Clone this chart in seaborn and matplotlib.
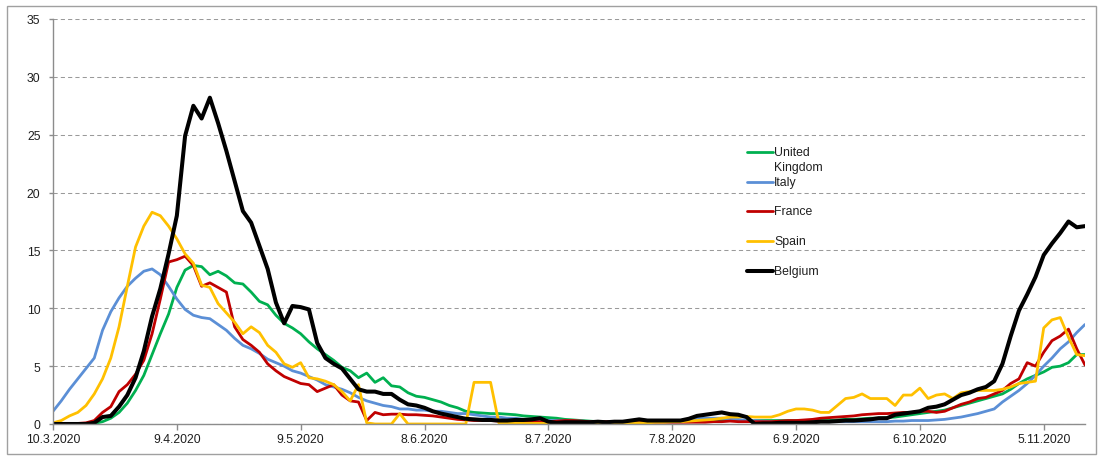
import pandas as pd
import seaborn as sns
import matplotlib.pyplot as plt
from matplotlib.lines import Line2D
from matplotlib.patches import Rectangle

OUT_PATH = 'out.png'
W, H = 1103, 460

# values every 2 days from 10.3.2020 to 15.11.2020
START = '2020-03-10'

uk = [0, 0, 0, 0, 0, 0.05, 0.2, 0.5, 1.0, 1.8,
      2.9, 4.2, 6.0, 7.8, 9.5, 11.8, 13.3, 13.7, 13.6, 12.9,
      13.2, 12.8, 12.2, 12.1, 11.4, 10.6, 10.3, 9.4, 8.7, 8.3,
      7.8, 7.1, 6.5, 6.0, 5.5, 4.9, 4.6, 4.0, 4.4, 3.6,
      4.0, 3.3, 3.2, 2.7, 2.4, 2.3, 2.1, 1.9, 1.6, 1.4,
      1.1, 1.0, 0.95, 0.9, 0.9, 0.85, 0.8, 0.7, 0.65, 0.6,
      0.55, 0.5, 0.4, 0.35, 0.3, 0.25, 0.2, 0.2, 0.2, 0.2,
      0.2, 0.2, 0.2, 0.2, 0.2, 0.2, 0.2, 0.2, 0.25, 0.3,
      0.3, 0.3, 0.3, 0.3, 0.3, 0.3, 0.3, 0.3, 0.3, 0.3,
      0.3, 0.3, 0.3, 0.3, 0.3, 0.35, 0.4, 0.4, 0.45, 0.5,
      0.5, 0.55, 0.6, 0.7, 0.8, 0.9, 1.0, 1.1, 1.2, 1.4,
      1.6, 1.8, 2.0, 2.2, 2.4, 2.6, 3.0, 3.5, 3.9, 4.2,
      4.5, 4.9, 5.0, 5.3, 6.0, 6.0]

italy = [1.1, 2.0, 3.0, 3.9, 4.8, 5.7, 8.1, 9.7, 10.9, 11.9,
         12.6, 13.2, 13.4, 12.9, 11.9, 10.8, 9.9, 9.4, 9.2, 9.1,
         8.6, 8.1, 7.4, 6.8, 6.5, 6.1, 5.6, 5.3, 5.0, 4.6,
         4.4, 4.1, 3.8, 3.4, 3.2, 3.0, 2.7, 2.3, 2.0, 1.8,
         1.6, 1.5, 1.3, 1.3, 1.2, 1.2, 1.1, 1.1, 1.0, 0.9,
         0.9, 0.8, 0.7, 0.6, 0.6, 0.5, 0.5, 0.4, 0.4, 0.4,
         0.3, 0.3, 0.3, 0.25, 0.25, 0.2, 0.2, 0.2, 0.2, 0.2,
         0.2, 0.2, 0.2, 0.2, 0.2, 0.2, 0.3, 0.4, 0.45, 0.5,
         0.5, 0.5, 0.45, 0.4, 0.3, 0.3, 0.25, 0.2, 0.2, 0.2,
         0.2, 0.2, 0.2, 0.2, 0.2, 0.2, 0.2, 0.2, 0.2, 0.2,
         0.2, 0.2, 0.25, 0.25, 0.3, 0.3, 0.3, 0.35, 0.4, 0.5,
         0.6, 0.75, 0.9, 1.1, 1.3, 1.9, 2.4, 2.9, 3.5, 4.2,
         5.0, 5.7, 6.5, 7.1, 7.9, 8.6]

france = [0, 0, 0.05, 0.05, 0.1, 0.3, 1.0, 1.5, 2.8, 3.4,
          4.3, 5.5, 7.8, 10.8, 14.0, 14.2, 14.5, 13.7, 11.9, 12.2,
          11.8, 11.4, 8.4, 7.3, 6.8, 6.2, 5.2, 4.6, 4.1, 3.8,
          3.5, 3.4, 2.8, 3.1, 3.4, 2.5, 2.0, 1.9, 0.3, 1.0,
          0.8, 0.85, 0.85, 0.8, 0.8, 0.75, 0.7, 0.6, 0.5, 0.4,
          0.35, 0.3, 0.3, 0.3, 0.25, 0.25, 0.25, 0.2, 0.2, 0.2,
          0.2, 0.25, 0.3, 0.3, 0.25, 0.2, 0.2, 0.2, 0.2, 0.2,
          0.15, 0.15, 0.15, 0.15, 0.15, 0.15, 0.15, 0.15, 0.15, 0.15,
          0.2, 0.2, 0.25, 0.2, 0.2, 0.2, 0.2, 0.2, 0.25, 0.3,
          0.3, 0.35, 0.4, 0.5, 0.55, 0.6, 0.65, 0.7, 0.8, 0.85,
          0.9, 0.9, 0.95, 1.0, 1.0, 1.1, 1.1, 1.0, 1.1, 1.4,
          1.7, 1.9, 2.2, 2.3, 2.6, 2.9, 3.5, 3.9, 5.3, 5.0,
          6.2, 7.2, 7.6, 8.2, 6.5, 5.1]

spain = [0.1, 0.3, 0.7, 1.0, 1.6, 2.6, 3.9, 5.7, 8.4, 11.9,
         15.3, 17.1, 18.3, 18.0, 17.1, 16.0, 14.7, 13.9, 12.0, 11.8,
         10.4, 9.6, 8.8, 7.8, 8.4, 7.9, 6.8, 6.2, 5.2, 4.9,
         5.3, 4.0, 3.9, 3.7, 3.4, 2.8, 2.0, 3.4, 0.1, 0.0,
         0.0, 0.0, 0.9, 0.0, 0.0, 0.0, 0.0, 0.0, 0.0, 0.0,
         0.0, 3.6, 3.6, 3.6, 0.1, 0.1, 0.05, 0.05, 0.05, 0.05,
         0.05, 0.05, 0.05, 0.05, 0.05, 0.1, 0.1, 0.1, 0.1, 0.1,
         0.1, 0.1, 0.1, 0.15, 0.15, 0.2, 0.2, 0.25, 0.3, 0.35,
         0.4, 0.5, 0.6, 0.6, 0.65, 0.6, 0.6, 0.6, 0.8, 1.1,
         1.3, 1.3, 1.2, 1.0, 1.0, 1.6, 2.2, 2.3, 2.6, 2.2,
         2.2, 2.2, 1.6, 2.5, 2.5, 3.1, 2.2, 2.5, 2.6, 2.2,
         2.7, 2.8, 2.9, 2.9, 2.9, 3.0, 3.2, 3.5, 3.6, 3.7,
         8.3, 9.0, 9.2, 7.5, 6.0, 5.9]

belgium = [0, 0, 0, 0, 0, 0.1, 0.6, 0.7, 1.5, 2.5,
           4.0, 6.3, 9.3, 11.7, 14.7, 18.0, 24.9, 27.5, 26.4, 28.2,
           26.0, 23.6, 21.0, 18.4, 17.4, 15.4, 13.4, 10.5, 8.7, 10.2,
           10.1, 9.9, 7.0, 5.7, 5.2, 4.8, 3.9, 3.0, 2.8, 2.8,
           2.6, 2.6, 2.1, 1.7, 1.6, 1.4, 1.1, 0.9, 0.75, 0.6,
           0.45, 0.4, 0.35, 0.35, 0.3, 0.3, 0.35, 0.35, 0.4, 0.5,
           0.2, 0.1, 0.15, 0.15, 0.15, 0.15, 0.2, 0.15, 0.2, 0.2,
           0.3, 0.4, 0.3, 0.3, 0.3, 0.3, 0.3, 0.45, 0.7, 0.8,
           0.9, 1.0, 0.85, 0.8, 0.6, 0.0, 0.05, 0.05, 0.1, 0.1,
           0.1, 0.1, 0.15, 0.2, 0.2, 0.25, 0.3, 0.3, 0.35, 0.4,
           0.5, 0.5, 0.8, 0.9, 1.0, 1.1, 1.4, 1.5, 1.7, 2.1,
           2.5, 2.7, 3.0, 3.2, 3.7, 5.2, 7.6, 9.8, 11.2, 12.7,
           14.6, 15.6, 16.5, 17.5, 17.0, 17.1]

countries = ['United Kingdom', 'Italy', 'France', 'Spain', 'Belgium']
legend_labels = ['United\nKingdom', 'Italy', 'France', 'Spain', 'Belgium']
colors = ['#00B050', '#5B8FD6', '#C00000', '#FFC000', '#000000']
widths = [2.0, 2.0, 2.0, 2.0, 2.9]
tick_dates = pd.date_range('2020-03-10', periods=9, freq='30D')
y_ticks = list(range(0, 36, 5))


def main():
    dates = pd.date_range(START, periods=len(uk), freq='2D')
    series = [uk, italy, france, spain, belgium]

    sns.set_style('white')
    plt.rcParams['font.family'] = ['Liberation Sans', 'DejaVu Sans']
    text_color = '#1F1F1F'
    axis_color = '#8C8C8C'
    fs = 8.8

    fig = plt.figure(figsize=(W / 100, H / 100), dpi=100)
    ax = fig.add_axes([53 / W, 1 - 425 / H, (1085 - 53) / W, (425 - 20) / H])

    for vals, c, lw in zip(series, colors, widths):
        sns.lineplot(x=dates, y=vals, color=c, linewidth=lw, ax=ax)

    ax.set_xlim(dates[0], dates[-1])
    ax.set_ylim(0, 35)
    ax.set_yticks(y_ticks)
    ax.set_xticks(tick_dates)
    ax.set_xticklabels([f'{d.day}.{d.month}.{d.year}' for d in tick_dates])
    ax.set_xlabel('')
    ax.set_ylabel('')

    ax.yaxis.grid(True, linestyle=(0, (4, 3)), color='#9A9A9A', linewidth=0.75)
    ax.xaxis.grid(False)
    ax.set_axisbelow(True)
    for s in ['top', 'right']:
        ax.spines[s].set_visible(False)
    for s in ['left', 'bottom']:
        ax.spines[s].set_color(axis_color)
        ax.spines[s].set_linewidth(1)
    ax.tick_params(axis='x', bottom=True, direction='out', length=4, width=1,
                   color=axis_color, pad=2.5, labelsize=fs, labelcolor=text_color)
    ax.tick_params(axis='y', left=True, direction='out', length=3, width=1,
                   color=axis_color, pad=6, labelsize=fs, labelcolor=text_color)

    # legend drawn by hand to follow the original placement
    ys = [153, 183, 212, 242, 272]
    for lab, c, lw, y in zip(legend_labels, colors, widths, ys):
        fig.add_artist(Line2D([747 / W, 773 / W], [1 - y / H] * 2, color=c,
                              linewidth=lw, transform=fig.transFigure))
        if '\n' in lab:
            fig.text(774 / W, 1 - (y - 6) / H, lab, va='top', ha='left',
                     fontsize=fs, color=text_color, linespacing=1.3)
        else:
            fig.text(774 / W, 1 - y / H, lab, va='center', ha='left',
                     fontsize=fs, color=text_color)

    fig.add_artist(Rectangle((7 / W, 1 - 455 / H), (1096 - 7) / W, (455 - 7) / H,
                             transform=fig.transFigure, fill=False,
                             edgecolor='#A0A0A0', linewidth=1))

    fig.savefig(OUT_PATH, dpi=100)


if __name__ == '__main__':
    main()
